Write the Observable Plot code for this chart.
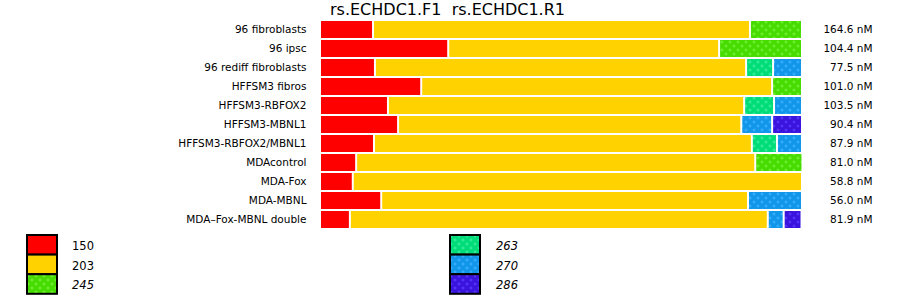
<!DOCTYPE html>
<html><head><meta charset="utf-8">
<script src="https://cdn.jsdelivr.net/npm/d3@7"></script>
<script src="https://cdn.jsdelivr.net/npm/@observablehq/plot@0.6"></script>
<style>
body{margin:0;background:#fff;font-family:"DejaVu Sans",sans-serif;}
#wrap{position:relative;width:900px;height:299px;overflow:hidden;background:#fff}
#chart{position:absolute;left:0;top:0}
#title{position:absolute;left:330px;top:0px;font-size:16px;line-height:20px;white-space:pre;color:#000}
.legcol{position:absolute;top:234px}
.leglab{position:absolute;font-size:11.5px;line-height:14px;color:#000}
</style></head><body>
<div id="wrap"><div id="chart"></div><div id="title"></div><div id="legend"></div></div>
<script>
const titleText = "rs.ECHDC1.F1  rs.ECHDC1.R1";
const samples = ["96 fibroblasts","96 ipsc","96 rediff fibroblasts","HFFSM3 fibros","HFFSM3-RBFOX2","HFFSM3-MBNL1","HFFSM3-RBFOX2/MBNL1","MDAcontrol","MDA-Fox","MDA-MBNL","MDA–Fox-MBNL double"];
const concentrations = ["164.6 nM","104.4 nM","77.5 nM","101.0 nM","103.5 nM","90.4 nM","87.9 nM","81.0 nM","58.8 nM","56.0 nM","81.9 nM"];
const alleles = ["150","203","245","263","270","286"];
const allele150 = [11.0, 26.6, 11.4, 21.0, 14.1, 16.2, 11.2, 7.5, 6.8, 12.7, 6.2];
const allele203 = [78.2, 56.2, 77.0, 72.8, 73.9, 71.2, 78.4, 82.8, 93.2, 76.1, 86.7];
const allele245 = [10.8, 17.2, 0, 6.2, 0, 0, 0, 9.8, 0, 0, 0];
const allele263 = [0, 0, 5.6, 0, 6.2, 0, 5.2, 0, 0, 0, 0];
const allele270 = [0, 0, 6.0, 0, 5.8, 6.4, 5.2, 0, 0, 11.2, 3.3];
const allele286 = [0, 0, 0, 0, 0, 6.2, 0, 0, 0, 0, 3.7];
const italicAlleles = ["245","263","270","286"];

const series = [allele150, allele203, allele245, allele263, allele270, allele286];
const data = [];
samples.forEach((s, i) => {
  alleles.forEach((a, j) => {
    const v = series[j][i];
    if (v > 0) data.push({sample: s, allele: a, value: v});
  });
});

const patterns = {
  "245": ["#46dc00", "#7cf040"],
  "263": ["#00dc78", "#40f0a0"],
  "270": ["#1196ea", "#40b4ff"],
  "286": ["#3a14dc", "#5a3cff"]
};
const colorRange = ["#ff0000", "#ffd200", "url(#p245)", "url(#p263)", "url(#p270)", "url(#p286)"];

const chart = Plot.plot({
  width: 900,
  height: 232,
  marginLeft: 320,
  marginRight: 98,
  marginTop: 19,
  marginBottom: 2,
  style: {fontFamily: "DejaVu Sans, sans-serif", fontSize: "10.5px", color: "#000", background: "transparent"},
  x: {domain: [0, 100], axis: null},
  y: {domain: samples, padding: 0.1, label: null},
  color: {type: "ordinal", domain: alleles, range: colorRange},
  marks: [
    Plot.axisY({tickSize: 0, tickPadding: 14, label: null}),
    Plot.barX(data, Plot.stackX({x: "value", y: "sample", fill: "allele", insetLeft: 1, insetRight: 1})),
    Plot.text(samples, {y: d => d, text: (d, i) => concentrations[i], frameAnchor: "right", dx: 70, textAnchor: "end"})
  ]
});

// pattern definitions
const defs = d3.select(chart).insert("defs", ":first-child");
for (const [k, [base, dot]] of Object.entries(patterns)) {
  const p = defs.append("pattern").attr("id", "p" + k).attr("patternUnits", "userSpaceOnUse")
    .attr("width", 8).attr("height", 8);
  p.append("rect").attr("width", 8).attr("height", 8).attr("fill", base);
  for (const [cx, cy] of [[2, 2], [6, 6]]) {
    p.append("rect").attr("x", cx - 1.5).attr("y", cy - 0.5).attr("width", 3).attr("height", 1).attr("fill", dot);
    p.append("rect").attr("x", cx - 0.5).attr("y", cy - 1.5).attr("width", 1).attr("height", 3).attr("fill", dot);
  }
}
document.getElementById("chart").appendChild(chart);
document.getElementById("title").textContent = titleText;

// legend
const legend = d3.select("#legend");
const cols = [alleles.slice(0, 3), alleles.slice(3)];
const colLeft = [27, 450];
const labelLeft = [72, 496];
cols.forEach((col, c) => {
  const svg = legend.append("svg").attr("class", "legcol")
    .style("left", (colLeft[c] - 1) + "px").attr("width", 33).attr("height", 62);
  col.forEach((a, r) => {
    svg.append("rect").attr("x", 1).attr("y", 1 + r * 19.6).attr("width", 30).attr("height", 19.6)
      .attr("fill", colorRange[alleles.indexOf(a)]).attr("stroke", "#000").attr("stroke-width", 2);
    legend.append("div").attr("class", "leglab")
      .style("left", labelLeft[c] + "px").style("top", (239 + r * 19.6) + "px")
      .style("font-style", italicAlleles.includes(a) ? "italic" : "normal")
      .text(a);
  });
});
</script>
</body></html>
